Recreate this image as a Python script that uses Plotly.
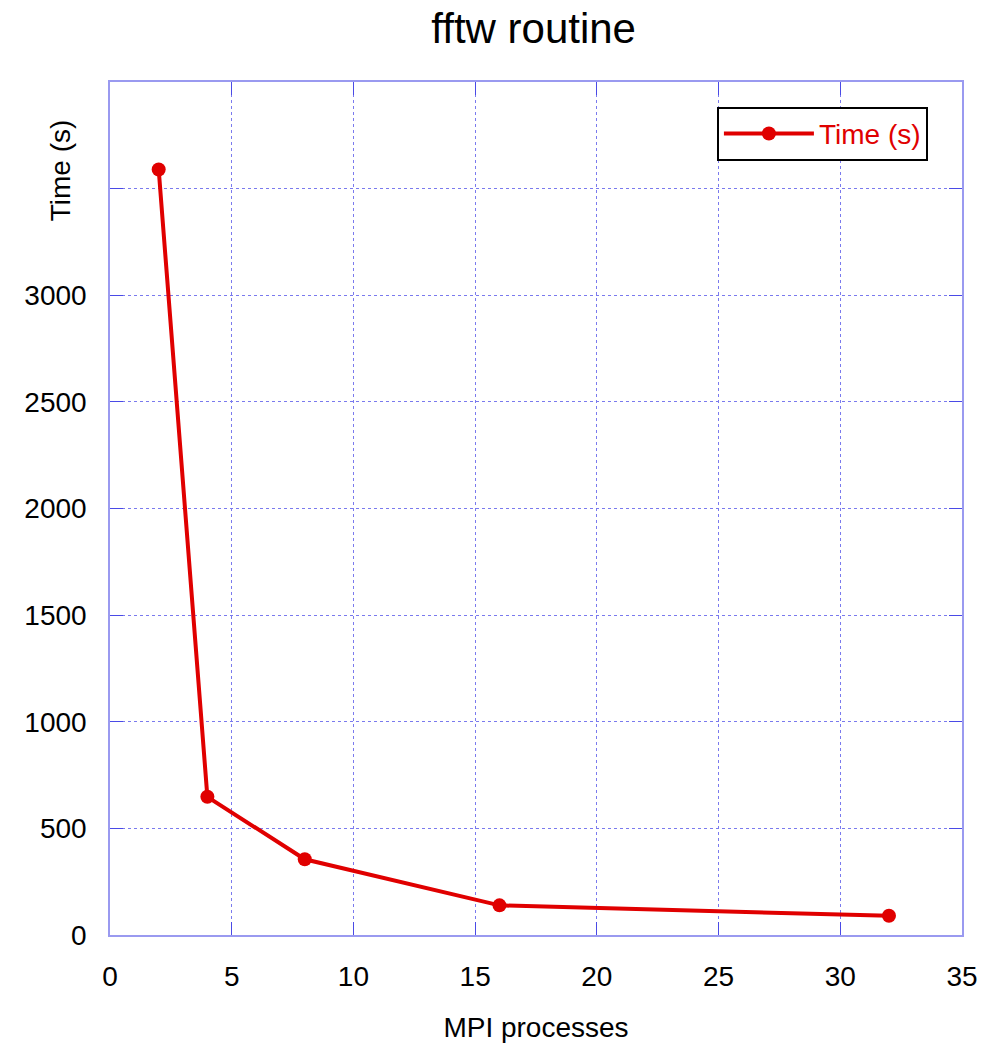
import plotly.graph_objects as go

# MPI process counts and the measured fftw run time
processes = [2, 4, 8, 16, 32]
time_s = [3590, 648, 355, 139, 90]

x_ticks = [0, 5, 10, 15, 20, 25, 30, 35]
y_ticks = [0, 500, 1000, 1500, 2000, 2500, 3000, 3500]
y_tick_text = ["0", "500", "1000", "1500", "2000", "2500", "3000", ""]

RED = "#e00000"
FRAME = "#9a9af0"
GRID = "#7a7aee"
TICK = "#4a4ae6"
FONT = "Liberation Sans"

fig = go.Figure()
fig.add_trace(go.Scatter(
    x=processes, y=time_s, mode="lines+markers", name="Time (s)",
    line=dict(color=RED, width=4),
    marker=dict(color=RED, size=14),
))

axis_common = dict(
    showline=True, linecolor=FRAME, linewidth=1.5, mirror="ticks",
    ticks="inside", ticklen=13, tickcolor=TICK, tickwidth=1,
    showgrid=True, gridcolor=GRID, gridwidth=1, griddash="dot",
    zeroline=False, ticklabelstandoff=16, automargin=False,
    tickfont=dict(family=FONT, size=28, color="#000000"),
)

fig.update_layout(
    width=1005, height=1043,
    margin=dict(l=110, r=43, t=82, b=108),
    paper_bgcolor="white", plot_bgcolor="white",
    font=dict(family=FONT, color="#000000"),
    title=dict(text="fftw routine", x=0.531, xanchor="center", y=0.973, yanchor="middle",
               font=dict(family=FONT, size=42, color="#000000")),
    xaxis=dict(range=[0, 35], tickvals=x_ticks, **axis_common,
               title=dict(text="MPI processes", font=dict(family=FONT, size=28), standoff=26)),
    yaxis=dict(range=[0, 4000], tickvals=y_ticks, ticktext=y_tick_text, **axis_common),
    legend=dict(x=0.96, xanchor="right", y=0.971, yanchor="top",
                bgcolor="white", bordercolor="#000000", borderwidth=2,
                font=dict(family=FONT, size=28, color=RED),
                itemwidth=90),
    showlegend=True,
)

fig.add_annotation(
    text="Time (s)", textangle=-90, xref="paper", yref="paper",
    x=-0.058, y=0.896, xanchor="center", yanchor="middle", showarrow=False,
    font=dict(family=FONT, size=28, color="#000000"),
)

fig.write_html("out.html")
